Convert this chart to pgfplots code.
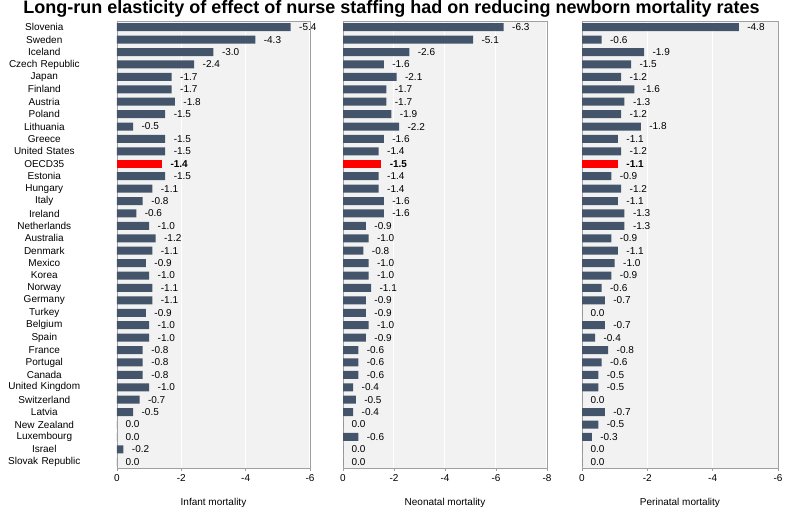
\documentclass[border=0pt]{standalone}
\usepackage{pgfplots}
\usepackage{pgfplotstable}
\pgfplotsset{compat=1.18}
\usepackage{fontspec}
\setmainfont{Liberation Sans}
\definecolor{barc}{RGB}{68,84,106}
\definecolor{bgc}{RGB}{242,242,242}
\definecolor{framec}{RGB}{160,160,160}

\pgfplotstableread{
idx inf neo per
0 -5.4 -6.3 -4.8
1 -4.3 -5.1 -0.6
2 -3.0 -2.6 -1.9
3 -2.4 -1.6 -1.5
4 -1.7 -2.1 -1.2
5 -1.7 -1.7 -1.6
6 -1.8 -1.7 -1.3
7 -1.5 -1.9 -1.2
8 -0.5 -2.2 -1.8
9 -1.5 -1.6 -1.1
10 -1.5 -1.4 -1.2
12 -1.5 -1.4 -0.9
13 -1.1 -1.4 -1.2
14 -0.8 -1.6 -1.1
15 -0.6 -1.6 -1.3
16 -1.0 -0.9 -1.3
17 -1.2 -1.0 -0.9
18 -1.1 -0.8 -1.1
19 -0.9 -1.0 -1.0
20 -1.0 -1.0 -0.9
21 -1.1 -1.1 -0.6
22 -1.1 -0.9 -0.7
23 -0.9 -0.9 0.0
24 -1.0 -1.0 -0.7
25 -1.0 -0.9 -0.4
26 -0.8 -0.6 -0.8
27 -0.8 -0.6 -0.6
28 -0.8 -0.6 -0.5
29 -1.0 -0.4 -0.5
30 -0.7 -0.5 0.0
31 -0.5 -0.4 -0.7
32 0.0 0.0 -0.5
33 0.0 -0.6 -0.3
34 -0.2 0.0 0.0
35 0.0 0.0 0.0
}\maintab

\pgfplotstableread{
idx inf neo per
11 -1.4 -1.5 -1.1
}\oecdtab

\pgfplotsset{
  panel/.style={
    scale only axis,
    anchor=south west,
    height=447pt,
    xbar, bar width=8pt, bar shift=0pt,
    x dir=reverse, y dir=reverse,
    xmax=0,
    ymin=-0.5, ymax=35.5,
    axis background/.style={fill=bgc},
    axis line style={framec, line width=0.8pt},
    xmajorgrids, grid style={white, line width=1pt},
    xtick pos=bottom, tick align=outside,
    major tick length=3pt,
    x tick style={framec, line width=0.8pt},
    ytick style={draw=none},
    /pgf/number format/assume math mode=true,
    font=\fontsize{10}{12}\selectfont,
    xticklabel style={font=\fontsize{10}{12}\selectfont},
    xlabel style={at={(axis description cs:0.5,0)}, anchor=center, yshift=-35pt, font=\fontsize{10}{12}\selectfont},
    point meta=x,
    nodes near coords={\pgfmathprintnumber[fixed,precision=1,zerofill,assume math mode=true]{\pgfplotspointmeta}},
    every node near coord/.append style={anchor=west, xshift=5pt, font=\fontsize{10}{12}\selectfont, text=black},
  },
}

\begin{document}
\begin{tikzpicture}
\useasboundingbox (0pt,0pt) rectangle (787pt,518pt);
\node[font=\bfseries\fontsize{18}{21}\selectfont, anchor=center, inner sep=0pt] at (391.5pt,509pt)
  {Long-run elasticity of effect of nurse staffing had on reducing newborn mortality rates};

% Panel 1
\begin{axis}[panel, at={(117pt,50pt)}, width=193pt, xmin=-6,
  xtick={0,-2,-4,-6}, xlabel={Infant mortality},
  ytick={0,...,35},
  yticklabels={Slovenia,Sweden,Iceland,Czech Republic,Japan,Finland,Austria,Poland,Lithuania,Greece,United States,OECD35,Estonia,Hungary,Italy,Ireland,Netherlands,Australia,Denmark,Mexico,Korea,Norway,Germany,Turkey,Belgium,Spain,France,Portugal,Canada,United Kingdom,Switzerland,Latvia,New Zealand,Luxembourg,Israel,Slovak Republic},
  yticklabel style={inner sep=0pt, text width=139pt, align=center, font=\fontsize{10}{12}\selectfont},
]
\addplot[fill=barc, draw=none] table[x=inf, y=idx] {\maintab};
\addplot[fill=red, draw=none, every node near coord/.append style={font=\bfseries\fontsize{10}{12}\selectfont}] table[x=inf, y=idx] {\oecdtab};
\end{axis}

% Panel 2
\begin{axis}[panel, at={(343pt,50pt)}, width=204pt, xmin=-8,
  xtick={0,-2,-4,-6,-8}, xlabel={Neonatal mortality},
  ytick=\empty,
]
\addplot[fill=barc, draw=none] table[x=neo, y=idx] {\maintab};
\addplot[fill=red, draw=none, every node near coord/.append style={font=\bfseries\fontsize{10}{12}\selectfont}] table[x=neo, y=idx] {\oecdtab};
\end{axis}

% Panel 3
\begin{axis}[panel, at={(582pt,50pt)}, width=196pt, xmin=-6,
  xtick={0,-2,-4,-6}, xlabel={Perinatal mortality},
  ytick=\empty,
]
\addplot[fill=barc, draw=none] table[x=per, y=idx] {\maintab};
\addplot[fill=red, draw=none, every node near coord/.append style={font=\bfseries\fontsize{10}{12}\selectfont}] table[x=per, y=idx] {\oecdtab};
\end{axis}
\end{tikzpicture}
\end{document}
